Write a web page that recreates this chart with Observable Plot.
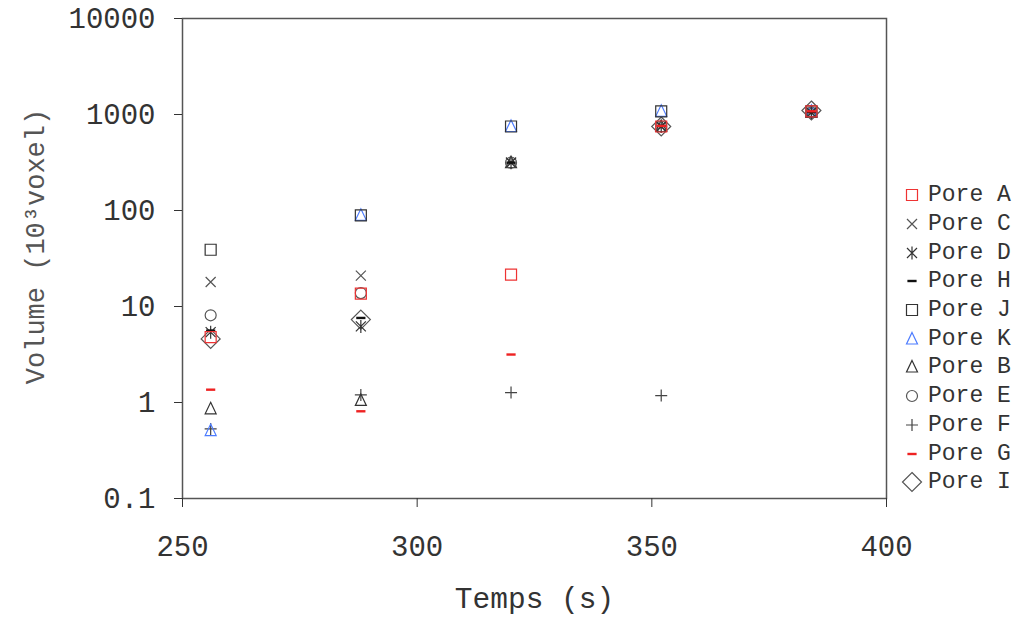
<!DOCTYPE html>
<html>
<head>
<meta charset="utf-8">
<script src="https://cdn.jsdelivr.net/npm/d3@7"></script>
<script src="https://cdn.jsdelivr.net/npm/@observablehq/plot@0.6"></script>
<style>
  html, body { margin: 0; padding: 0; background: #fff; overflow: hidden; }
  #wrap { position: relative; width: 1022px; height: 622px; }
  #legend { position: absolute; left: 900px; top: 181px; font-family: "Liberation Mono", monospace; font-size: 23px; color: #333; }
  .row { display: flex; align-items: center; height: 28.7px; }
  .row svg { width: 24px; height: 24px; margin-right: 4px; }
</style>
</head>
<body>
<div id="wrap"><div id="chart"></div><div id="legend"></div></div>
<script>
// ---- data ----
const times = [256, 288, 320, 352, 384];
const pores = ["A", "C", "D", "H", "J", "K", "B", "E", "F", "G", "I"];
const poreA = [4.8, 13.6, 21.5, 750, 1080];
const poreC = [18, 21, 315, 750, 1050];
const poreD = [5.4, 6.2, 315, 750, 1050];
const poreH = [5.6, 7.6, 315, 760, 1060];
const poreJ = [39, 89, 750, 1080, 1080];
const poreK = [0.51, 89, 750, 1080, 1080];
const poreB = [0.86, 1.05, 315, 750, 1050];
const poreE = [8.1, 13.8, 315, 750, 1050];
const poreF = [0.53, 1.2, 1.27, 1.18, null];
const poreG = [1.36, 0.81, 3.16, 760, 1080];
const poreI = [4.6, 7.3, null, 750, 1100];
const yTicks = [0.1, 1, 10, 100, 1000, 10000];
const xTicks = [250, 300, 350, 400];

const series = {A: poreA, C: poreC, D: poreD, H: poreH, J: poreJ, K: poreK, B: poreB, E: poreE, F: poreF, G: poreG, I: poreI};

// ---- styles ----
const colors = ["#ee3333", "#555", "#333", "#111", "#333", "#4d7cff", "#333", "#555", "#444", "#ee2222", "#555"];
const sym = {
  square: {draw(c) { const h = 5.5; c.moveTo(-h, -h); c.lineTo(h, -h); c.lineTo(h, h); c.lineTo(-h, h); c.closePath(); }},
  times: {draw(c) { const h = 5; c.moveTo(-h, -h); c.lineTo(h, h); c.moveTo(-h, h); c.lineTo(h, -h); }},
  asterisk: {draw(c) { const h = 5; c.moveTo(-h, -h); c.lineTo(h, h); c.moveTo(-h, h); c.lineTo(h, -h); c.moveTo(0, -6.5); c.lineTo(0, 6.5); }},
  dash: {draw(c) { c.moveTo(-4, -0.6); c.lineTo(4, -0.6); c.lineTo(4, 0.6); c.lineTo(-4, 0.6); c.closePath(); }},
  triangle: {draw(c) { c.moveTo(0, -6.5); c.lineTo(5.5, 5); c.lineTo(-5.5, 5); c.closePath(); }},
  circle: {draw(c) { c.moveTo(5.5, 0); c.arc(0, 0, 5.5, 0, 2 * Math.PI); }},
  plus: {draw(c) { c.moveTo(-6, 0); c.lineTo(6, 0); c.moveTo(0, -6); c.lineTo(0, 6); }},
  diamond: {draw(c) { const h = 9.5; c.moveTo(0, -h); c.lineTo(h, 0); c.lineTo(0, h); c.lineTo(-h, 0); c.closePath(); }}
};
const symbols = [sym.square, sym.times, sym.asterisk, sym.dash, sym.square, sym.triangle, sym.triangle, sym.circle, sym.plus, sym.dash, sym.diamond];

const rows = [];
const drawOrder = ["I", "F", "B", "K", "J", "E", "C", "D", "H", "G", "A"];
for (const p of drawOrder) {
  series[p].forEach((v, i) => { if (v != null) rows.push({pore: p, t: times[i], v}); });
}

const font = "Liberation Mono, Courier New, monospace";
const plot = Plot.plot({
  width: 1022,
  height: 622,
  marginLeft: 182,
  marginRight: 136,
  marginTop: 18,
  marginBottom: 124,
  style: {fontFamily: font, fontSize: "29px", color: "#333", background: "#fff"},
  x: {domain: [250, 400]},
  y: {type: "log", domain: [0.1, 10000]},
  symbol: {domain: pores, range: symbols},
  color: {domain: pores, range: colors},
  marks: [
    Plot.frame({stroke: "#555", strokeWidth: 1.5}),
    Plot.axisX({ticks: xTicks, tickSize: 9, tickPadding: 28, label: null, tickFormat: d => String(d)}),
    Plot.axisY({ticks: yTicks, tickSize: 8, tickPadding: 19, label: null, tickFormat: d => String(d)}),
    Plot.text(["Temps (s)"], {frameAnchor: "bottom", dy: 109, text: d => d, fontSize: 29.5, fill: "#333"}),
    Plot.text(["Volume (10³voxel)"], {frameAnchor: "left", textAnchor: "middle", dx: -147, dy: -12, rotate: -90, text: d => d, fontSize: 27, fill: "#555"}),
    Plot.dot(rows, {x: "t", y: "v", symbol: "pore", stroke: "pore", strokeWidth: 1.2, r: 5})
  ]
});
document.getElementById("chart").appendChild(plot);

// ---- legend ----
const leg = document.getElementById("legend");
pores.forEach((p, i) => {
  const path = d3.path();
  symbols[i].draw(path, 0);
  const row = document.createElement("div");
  row.className = "row";
  row.innerHTML = `<svg viewBox="-12 -12 24 24"><path d="${path.toString()}" fill="none" stroke="${colors[i]}" stroke-width="1.2"/></svg><span>Pore ${p}</span>`;
  leg.appendChild(row);
});
</script>
</body>
</html>
